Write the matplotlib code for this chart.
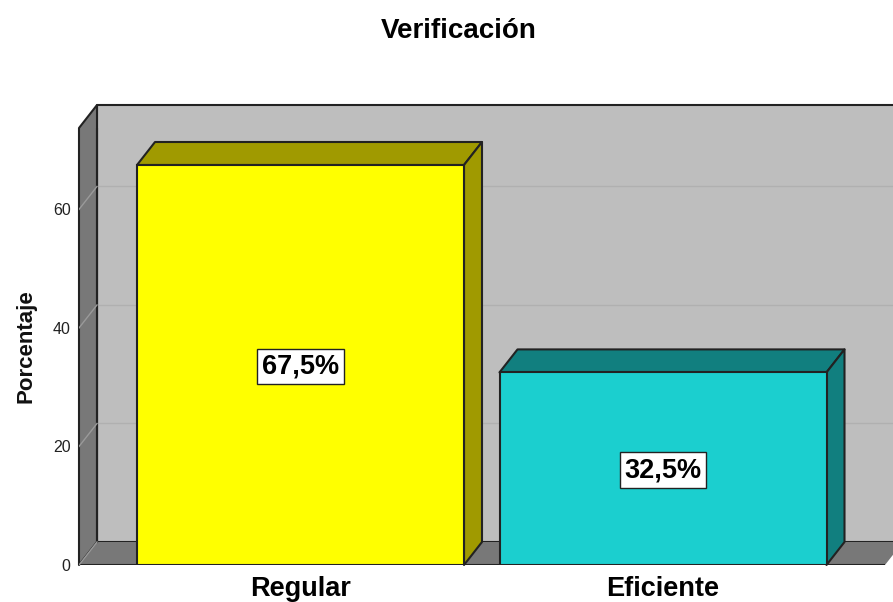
import matplotlib
matplotlib.use('Agg')
import matplotlib.pyplot as plt
from matplotlib.patches import Polygon

plt.rcParams['font.family'] = ['Liberation Sans', 'DejaVu Sans']

# datos
categorias = ['Regular', 'Eficiente']
porcentajes = [67.5, 32.5]
etiquetas = ['67,5%', '32,5%']
colores = ['#ffff00', '#1bcfcf']
colores_osc = ['#a09a00', '#117f7f']
ticks_y = [0, 20, 40, 60]

W, H = 893, 602
x_izq, x_der, y_base, y_tope = 79, 885, 565, 128
esc_x = 362.5  # px entre categorias
esc_y = (565 - 165) / 67.5  # px por unidad
prof_x = 18 / esc_x
prof_y = 23 / esc_y
borde = '#222222'

fig = plt.figure(figsize=(W / 100, H / 100), dpi=100)
ax = fig.add_axes([x_izq / W, 1 - y_base / H, (x_der - x_izq) / W, (y_base - y_tope) / H])
xmin = (x_izq - 300.5) / esc_x
xmax = (x_der - 300.5) / esc_x
ymax = (y_base - y_tope) / esc_y
ax.set_xlim(xmin, xmax)
ax.set_ylim(0, ymax)
for s in ax.spines.values():
    s.set_visible(False)


def poli(puntos, color, lw=1.5, z=1, ec=borde):
    ax.add_patch(Polygon(puntos, closed=True, fc=color, ec=ec, lw=lw, zorder=z,
                         clip_on=False, joinstyle='round'))


# pared de fondo, pared izquierda y piso
poli([(xmin + prof_x, prof_y), (xmax + 2 * prof_x, prof_y), (xmax + 2 * prof_x, ymax + prof_y),
      (xmin + prof_x, ymax + prof_y)], '#bebebe')
poli([(xmin, 0), (xmin + prof_x, prof_y), (xmin + prof_x, ymax + prof_y), (xmin, ymax)], '#787878')
poli([(xmin, 0), (xmax, 0), (xmax + prof_x, prof_y), (xmin + prof_x, prof_y)], '#787878', lw=0, z=1.5, ec='none')
ax.plot([xmin, xmax], [0, 0], color=borde, lw=1.5, zorder=1.6, solid_capstyle='butt')
ax.plot([xmin + prof_x, xmin + prof_x], [prof_y, ymax + prof_y], color=borde, lw=1.5, zorder=1.6)

# rejilla
for t in ticks_y:
    ax.plot([xmin, xmin + prof_x], [t, t + prof_y], color='#9a9a9a', lw=1, zorder=1.7)
    if t > 0:
        ax.plot([xmin + prof_x, xmax + 2 * prof_x], [t + prof_y, t + prof_y], color='#b0b0b0', lw=1,
                zorder=1.2, clip_on=False)

# barras
ancho = 327 / esc_x
for i, (v, c, co, et) in enumerate(zip(porcentajes, colores, colores_osc, etiquetas)):
    ax.bar(i, v, width=ancho, color=c, edgecolor=borde, linewidth=1.5, zorder=3)
    a, b = i - ancho / 2, i + ancho / 2
    poli([(a, v), (b, v), (b + prof_x, v + prof_y), (a + prof_x, v + prof_y)], co, z=2.5)
    poli([(b, 0), (b + prof_x, prof_y), (b + prof_x, v + prof_y), (b, v)], co, z=2.5)
    ax.annotate(et, (i, v / 2), xytext=(0, -1), textcoords='offset points', ha='center', va='center',
                fontsize=19.5, fontweight='bold', color='black', zorder=4,
                bbox=dict(boxstyle='square,pad=0.17', fc='white', ec=borde, lw=1))

ax.set_xticks(range(len(categorias)), categorias, fontsize=19.5, fontweight='bold', color='black')
ax.set_yticks(ticks_y, [str(t) for t in ticks_y], fontsize=11.5, color='#222222')
ax.tick_params(axis='both', length=0)
ax.tick_params(axis='x', pad=8)
ax.tick_params(axis='y', pad=6)
ax.set_ylabel('Porcentaje', fontsize=16, fontweight='bold', color='#111111', labelpad=12)

fig.text(458.5 / W, 1 - 30.5 / H, 'Verificación', ha='center', va='center', fontsize=20,
         fontweight='bold', color='black')

fig.savefig('out.png', dpi=100)
